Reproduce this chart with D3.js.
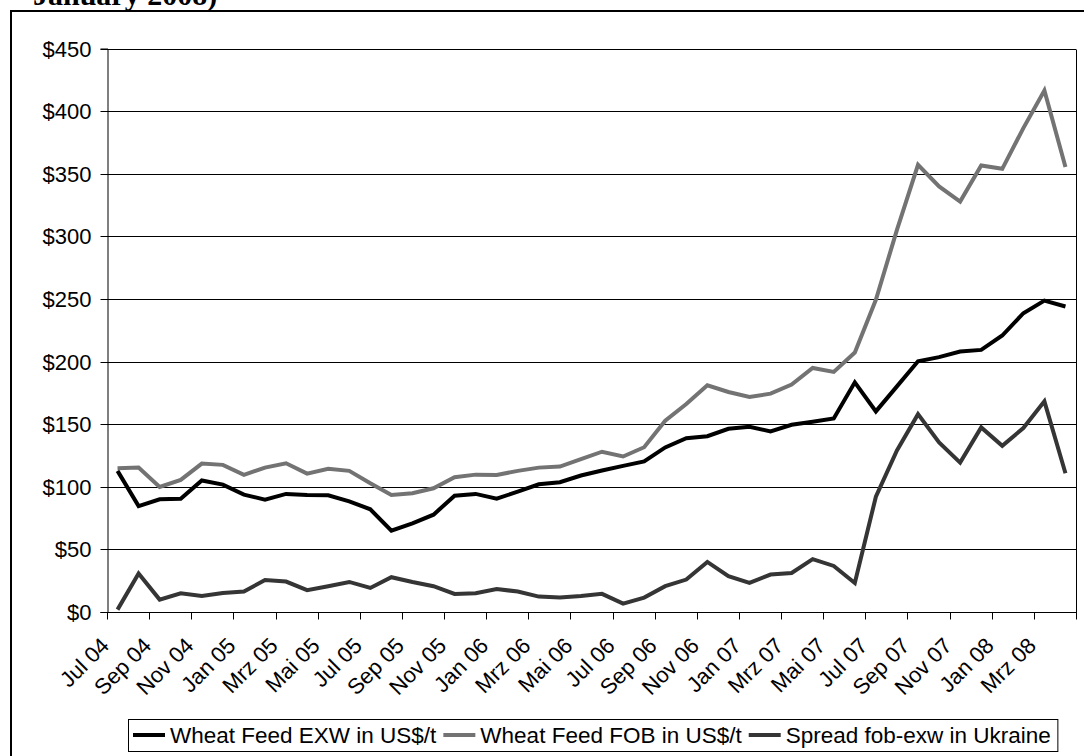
<!DOCTYPE html>
<html>
<head>
<meta charset="utf-8">
<script src="https://cdn.jsdelivr.net/npm/d3@7"></script>
<style>
  html, body { margin: 0; padding: 0; background: #fff; }
  svg { display: block; }
  text { font-family: "Liberation Sans", Arial, sans-serif; fill: #000; }
</style>
</head>
<body>
<svg id="chart" width="1084" height="756"></svg>
<script>
// Monthly categories, Jul 2004 – Apr 2008 (German month abbreviations)
const months = [
  "Jul 04","Aug 04","Sep 04","Okt 04","Nov 04","Dez 04",
  "Jan 05","Feb 05","Mrz 05","Apr 05","Mai 05","Jun 05","Jul 05","Aug 05","Sep 05","Okt 05","Nov 05","Dez 05",
  "Jan 06","Feb 06","Mrz 06","Apr 06","Mai 06","Jun 06","Jul 06","Aug 06","Sep 06","Okt 06","Nov 06","Dez 06",
  "Jan 07","Feb 07","Mrz 07","Apr 07","Mai 07","Jun 07","Jul 07","Aug 07","Sep 07","Okt 07","Nov 07","Dez 07",
  "Jan 08","Feb 08","Mrz 08","Apr 08"
];

// Wheat Feed EXW in US$/t
const exw = [
  112.7, 84.6, 90.0, 90.5, 105.0, 101.7,
  93.7, 89.7, 94.3, 93.5, 93.2, 88.4, 82.0, 64.9, 70.8, 77.7, 92.9, 94.3,
  90.5, 96.1, 102.0, 103.6, 109.0, 113.0, 116.7, 120.2, 131.4, 138.8, 140.4, 146.3,
  147.9, 144.2, 149.5, 151.9, 154.6, 183.4, 160.2, 180.2, 200.2, 203.5, 208.0, 209.3,
  220.8, 238.6, 248.7, 244.0
];

// Wheat Feed FOB in US$/t
const fob = [
  114.8, 115.3, 99.9, 105.5, 118.5, 117.5,
  109.5, 115.3, 118.8, 110.5, 114.3, 112.7, 102.8, 93.5, 94.8, 98.8, 107.6, 109.7,
  109.5, 112.7, 115.3, 116.1, 122.0, 128.0, 124.2, 131.6, 152.7, 166.1, 181.0, 175.7,
  171.7, 174.4, 181.6, 194.9, 191.7, 207.2, 249.3, 305.2, 357.1, 339.8, 327.8, 356.6,
  353.9, 386.4, 416.5, 355.3
];

// Spread fob-exw in Ukraine
const spread = [
  1.9, 30.7, 9.9, 15.0, 12.8, 15.2,
  16.3, 25.6, 24.3, 17.4, 20.6, 24.0, 19.2, 27.8, 24.0, 20.6, 14.4, 15.0,
  18.4, 16.3, 12.3, 11.5, 12.8, 14.5, 6.7, 11.5, 20.6, 25.9, 40.0, 28.6,
  23.2, 29.9, 31.2, 42.2, 36.8, 23.2, 92.1, 129.0, 158.0, 135.4, 119.3, 147.4,
  132.7, 146.9, 168.2, 110.8
];

const yTicks = [0, 50, 100, 150, 200, 250, 300, 350, 400, 450];
const seriesNames = ["Wheat Feed EXW in US$/t", "Wheat Feed FOB in US$/t", "Spread fob-exw in Ukraine"];

const series = [
  { name: seriesNames[0], values: exw,    color: "#000000" },
  { name: seriesNames[1], values: fob,    color: "#737373" },
  { name: seriesNames[2], values: spread, color: "#353535" }
];

const svg = d3.select("#chart");
const plot = { left: 107, right: 1076, top: 48.5, bottom: 612 };

// Outer chart frame (runs off the page on the right and bottom)
svg.append("rect")
  .attr("x", 11).attr("y", 11)
  .attr("width", 1100).attr("height", 800)
  .attr("fill", "none").attr("stroke", "#000").attr("stroke-width", 2);

// Tail of the heading that sits above the chart
svg.append("text")
  .attr("x", 33).attr("y", 5)
  .style("font-family", "'Liberation Serif', 'Times New Roman', serif")
  .style("font-weight", "bold")
  .style("font-size", "30px")
  .text("January 2008)");

const x = d3.scaleBand().domain(months).range([plot.left, plot.right]).padding(0);
const y = d3.scaleLinear().domain([0, 450]).range([plot.bottom, plot.top]);
const cx = (i) => x(months[i]) + x.bandwidth() / 2;
const py = (v) => Math.round(y(v)) + 0.5;

// Horizontal gridlines
svg.append("g").selectAll("line")
  .data(yTicks)
  .join("line")
  .attr("x1", plot.left).attr("x2", plot.right)
  .attr("y1", py).attr("y2", py)
  .attr("stroke", "#000").attr("stroke-width", 1);

// Right border of the plot area
svg.append("line")
  .attr("x1", plot.right + 0.5).attr("x2", plot.right + 0.5)
  .attr("y1", py(450)).attr("y2", py(0))
  .attr("stroke", "#000").attr("stroke-width", 1);

// Y axis
const yAxis = svg.append("g")
  .attr("transform", `translate(${plot.left + 0.5},0)`)
  .call(d3.axisLeft(y).tickValues(yTicks).tickFormat(d => "$" + d).tickSize(7).tickPadding(9));
yAxis.select(".domain").attr("stroke", "#000");
yAxis.selectAll(".tick line").attr("stroke", "#000");
yAxis.selectAll(".tick").attr("transform", d => `translate(0,${py(d)})`);
yAxis.selectAll(".tick text")
  .style("font-size", "22px")
  .style("font-family", "'Liberation Sans', Arial, sans-serif")
  .attr("fill", "#000");

// X axis line and tick marks at every second category boundary
const xg = svg.append("g");
xg.append("line")
  .attr("x1", plot.left).attr("x2", plot.right + 1)
  .attr("y1", py(0)).attr("y2", py(0))
  .attr("stroke", "#000");
const tickIdx = d3.range(0, months.length + 1, 2);
const edge = (k) => Math.round(k < months.length ? x(months[k]) : plot.right) + 0.5;
xg.selectAll("line.tk")
  .data(tickIdx)
  .join("line")
  .attr("class", "tk")
  .attr("x1", edge).attr("x2", edge)
  .attr("y1", py(0))
  .attr("y2", py(0) + 7)
  .attr("stroke", "#000");

// Rotated month labels for every second month
const labelIdx = d3.range(0, months.length, 2);
xg.selectAll("text.lbl")
  .data(labelIdx)
  .join("text")
  .attr("class", "lbl")
  .attr("text-anchor", "end")
  .attr("transform", i => `translate(${cx(i) - 7},${plot.bottom + 35}) rotate(-45)`)
  .style("font-size", "22px")
  .text(i => months[i]);

// Series lines
const line = d3.line()
  .x((d, i) => cx(i))
  .y(d => y(d));

svg.append("g").selectAll("path")
  .data(series)
  .join("path")
  .attr("d", s => line(s.values))
  .attr("fill", "none")
  .attr("stroke", s => s.color)
  .attr("stroke-width", 4)
  .attr("stroke-linejoin", "miter")
  .attr("stroke-linecap", "butt");

// Legend
const legend = svg.append("g");
const legBox = legend.append("rect")
  .attr("x", 128.5).attr("y", 719.5)
  .attr("height", 32)
  .attr("fill", "#fff").attr("stroke", "#000").attr("stroke-width", 1);

let lx = 133;
const ly = 735;
series.forEach(s => {
  legend.append("line")
    .attr("x1", lx).attr("x2", lx + 32)
    .attr("y1", ly).attr("y2", ly)
    .attr("stroke", s.color).attr("stroke-width", 4);
  const t = legend.append("text")
    .attr("x", lx + 37).attr("y", ly + 8)
    .style("font-size", "22.5px")
    .text(s.name);
  lx = lx + 37 + t.node().getComputedTextLength() + 7;
});
legBox.attr("width", lx - 128.5);
</script>
</body>
</html>
